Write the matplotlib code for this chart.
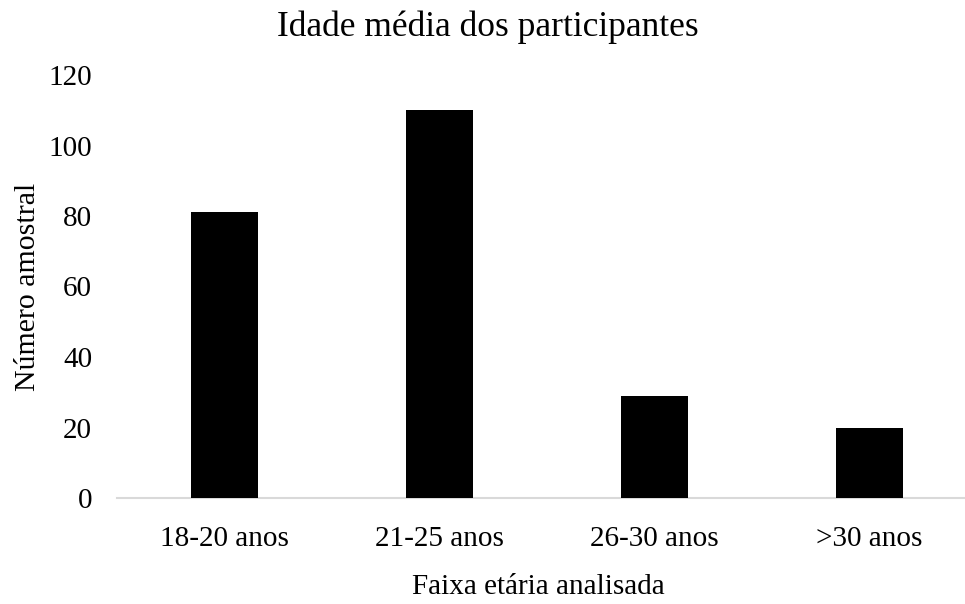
import matplotlib
matplotlib.use("Agg")
import matplotlib.pyplot as plt

faixas = ["18-20 anos", "21-25 anos", "26-30 anos", ">30 anos"]
participantes = [81, 110, 29, 20]
y_ticks = [0, 20, 40, 60, 80, 100, 120]

plt.rcParams["font.family"] = ["Liberation Serif", "DejaVu Serif"]

fig = plt.figure(figsize=(9.65, 6.04), dpi=100)
ax = fig.add_axes([117 / 965, 106 / 604, 848 / 965, 423 / 604])

pos = list(range(len(faixas)))
ax.bar(pos, participantes, width=0.31, color="black", zorder=3)

ax.set_xlim(-0.5, 3.445)
ax.set_ylim(0, 120)
ax.set_yticks(y_ticks)
ax.set_xticks(pos)
ax.set_xticklabels(faixas)

for side in ["top", "right", "left"]:
    ax.spines[side].set_visible(False)
ax.spines["bottom"].set_color("#d9d9d9")
ax.spines["bottom"].set_linewidth(1.5)

ax.tick_params(axis="both", length=0, labelsize=21, colors="black")
ax.tick_params(axis="x", pad=20)
ax.tick_params(axis="y", pad=18)

fig.text(488 / 965, 1 - 27 / 604, "Idade média dos participantes",
         ha="center", va="center", fontsize=25.5)
fig.text(538 / 965, 1 - 587 / 604, "Faixa etária analisada",
         ha="center", va="center", fontsize=21)
fig.text(28 / 965, 1 - 287 / 604, "Número amostral",
         ha="center", va="center", rotation=90, fontsize=21.5)

fig.savefig("out.png", dpi=100)
